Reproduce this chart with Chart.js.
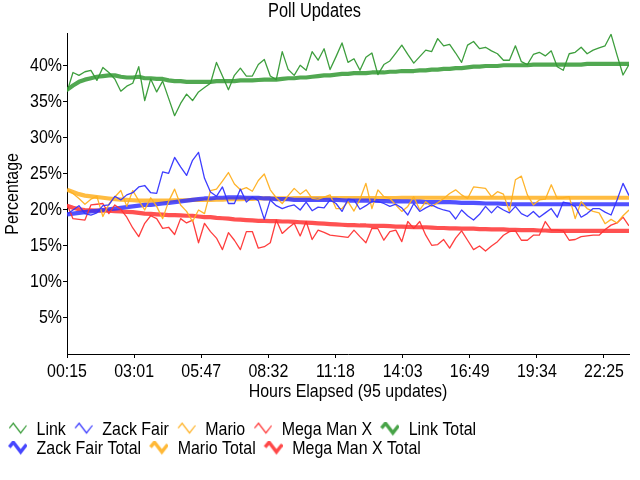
<!DOCTYPE html>
<html>
<head>
<meta charset="utf-8">
<script src="https://cdn.jsdelivr.net/npm/chart.js@4.4.1/dist/chart.umd.min.js"></script>
<style>
html,body{margin:0;padding:0;background:#fff}
#wrap{width:640px;height:480px;position:relative}
</style>
</head>
<body>
<div id="wrap"><canvas id="c" width="640" height="480"></canvas></div>
<script>
// ---------------- data ----------------
const seriesNames = ['Link', 'Zack Fair', 'Mario', 'Mega Man X', 'Link Total', 'Zack Fair Total', 'Mario Total', 'Mega Man X Total'];
const xTickLabels = ['00:15', '03:01', '05:47', '08:32', '11:18', '14:03', '16:49', '19:34', '22:25'];
const yTickValues = [5, 10, 15, 20, 25, 30, 35, 40];

const link = [36.4, 39.1, 38.7, 39.2, 39.4, 38.0, 39.8, 39.1, 38.2, 36.5,
  37.2, 37.6, 39.9, 35.2, 38.2, 36.4, 37.9, 35.5, 33.1, 34.8,
  36.1, 35.2, 36.4, 37.0, 37.6, 40.5, 38.6, 36.7, 38.7, 39.7,
  38.6, 38.6, 40.2, 40.9, 38.6, 38.1, 42.0, 39.5, 38.7, 40.1,
  39.4, 42.0, 40.8, 42.4, 39.5, 41.3, 43.2, 40.5, 41.0, 39.4,
  41.2, 41.8, 38.8, 40.2, 40.7, 41.8, 42.9, 41.6, 40.4, 41.3,
  42.2, 42.0, 43.8, 42.8, 43.0, 41.8, 40.5, 42.9, 43.4, 42.4,
  42.6, 42.1, 41.7, 40.8, 40.8, 42.8, 40.6, 40.2, 41.6, 41.9,
  41.4, 42.1, 39.9, 39.4, 41.7, 41.9, 42.6, 41.7, 42.2, 42.5,
  42.8, 44.4, 41.5, 38.75, 40.2];
const zackFair = [19.4, 20.0, 20.6, 19.5, 19.3, 19.6, 20.6, 20.7, 21.9, 21.4,
  22.1, 22.4, 23.2, 23.4, 22.4, 22.3, 25.3, 25.1, 27.3, 26.0,
  24.8, 26.9, 28.0, 24.4, 22.5, 21.9, 23.2, 20.9, 20.9, 22.9,
  21.1, 21.8, 21.3, 18.7, 21.4, 20.6, 20.2, 20.5, 20.7, 20.0,
  21.1, 19.9, 20.4, 20.3, 21.4, 20.9, 19.8, 21.5, 21.4, 20.1,
  20.6, 21.2, 21.2, 20.9, 20.5, 20.8, 20.3, 19.3, 20.9, 19.8,
  20.3, 20.7, 20.3, 20.0, 19.8, 18.75, 20.0, 19.2, 18.6, 19.4,
  20.5, 19.6, 20.5, 20.0, 19.6, 20.5, 19.5, 19.1, 19.8, 19.0,
  19.6, 20.2, 19.0, 21.1, 20.9, 20.5, 19.0, 19.5, 20.2, 20.2,
  19.7, 19.3, 21.4, 23.7, 22.0];
const mario = [22.8, 22.3, 21.6, 20.8, 21.5, 21.9, 19.1, 20.8, 21.8, 22.7,
  20.5, 22.7, 21.3, 20.0, 21.7, 20.5, 18.8, 21.2, 22.9, 20.7,
  19.8, 18.4, 20.0, 19.5, 22.7, 22.9, 24.0, 25.2, 23.6, 22.8,
  23.1, 22.6, 24.1, 25.0, 22.8, 21.7, 20.9, 22.0, 23.0, 22.2,
  22.8, 21.6, 21.5, 21.8, 22.1, 20.2, 20.2, 21.15, 19.85, 21.5,
  23.7, 20.2, 22.8, 21.85, 21.6, 20.7, 19.8, 20.5, 21.85, 20.0,
  21.15, 20.5, 21.0, 21.6, 22.3, 22.8, 22.1, 21.6, 23.2, 23.1,
  23.0, 21.85, 22.55, 22.2, 19.8, 24.2, 24.7, 22.1, 20.7, 21.4,
  21.5, 23.5, 21.6, 21.7, 21.85, 18.8, 21.15, 20.2, 19.8, 19.6,
  18.1, 18.7, 18.2, 19.2, 20.0];
const megaManX = [20.8, 18.8, 18.7, 18.6, 20.7, 20.8, 20.9, 19.5, 20.7, 20.1,
  19.0, 17.5, 16.3, 18.15, 19.2, 18.8, 17.45, 17.6, 16.6, 18.8,
  18.2, 18.6, 15.45, 18.15, 17.0, 16.1, 14.5, 16.85, 15.8, 14.5,
  17.0, 17.0, 14.7, 14.9, 15.45, 18.6, 16.75, 17.5, 18.15, 16.4,
  18.4, 15.9, 17.2, 16.9, 16.5, 16.4, 16.3, 16.2, 17.2, 16.3,
  15.45, 17.45, 17.4, 15.8, 17.0, 17.2, 15.6, 18.4, 17.45, 18.4,
  16.5, 15.1, 15.2, 15.9, 14.7, 16.1, 17.1, 15.8, 14.5, 15.0,
  14.3, 15.0, 15.6, 16.5, 17.0, 17.1, 15.8, 15.8, 16.5, 16.5,
  18.4, 17.2, 17.2, 17.1, 15.8, 15.9, 16.3, 16.4, 16.5, 16.5,
  17.3, 17.9, 18.2, 19.0, 17.8];
const linkTotal = [36.7, 37.3, 37.8, 38.1, 38.3, 38.5, 38.6, 38.7, 38.7, 38.5,
  38.4, 38.4, 38.5, 38.3, 38.3, 38.2, 38.2, 38.0, 37.9, 37.9,
  37.8, 37.8, 37.8, 37.8, 37.8, 37.9, 37.9, 37.9, 37.9, 38.0,
  38.0, 38.0, 38.05, 38.1, 38.1, 38.1, 38.2, 38.3, 38.3, 38.4,
  38.4, 38.5, 38.6, 38.7, 38.7, 38.8, 38.9, 38.9, 39.0, 39.0,
  39.0, 39.1, 39.1, 39.1, 39.2, 39.2, 39.3, 39.3, 39.3, 39.4,
  39.4, 39.5, 39.5, 39.6, 39.6, 39.7, 39.7, 39.8, 39.9, 39.9,
  40.0, 40.0, 40.0, 40.1, 40.1, 40.1, 40.1, 40.1, 40.2, 40.2,
  40.2, 40.2, 40.2, 40.2, 40.2, 40.2, 40.2, 40.3, 40.3, 40.3,
  40.3, 40.3, 40.3, 40.3, 40.3];
const zackFairTotal = [19.4, 19.5, 19.6, 19.7, 19.8, 19.9, 20.0, 20.1, 20.2, 20.3,
  20.4, 20.5, 20.6, 20.7, 20.7, 20.8, 20.9, 21.0, 21.1, 21.2,
  21.3, 21.4, 21.5, 21.6, 21.6, 21.7, 21.7, 21.75, 21.75, 21.75,
  21.7, 21.7, 21.7, 21.6, 21.6, 21.5, 21.5, 21.5, 21.4, 21.4,
  21.4, 21.4, 21.4, 21.4, 21.4, 21.4, 21.35, 21.3, 21.3, 21.3,
  21.3, 21.3, 21.25, 21.25, 21.2, 21.2, 21.2, 21.2, 21.15, 21.15,
  21.1, 21.1, 21.1, 21.1, 21.1, 21.05, 21.0, 21.0, 21.0, 20.95,
  20.9, 20.9, 20.9, 20.85, 20.8, 20.8, 20.8, 20.8, 20.8, 20.8,
  20.8, 20.8, 20.8, 20.8, 20.8, 20.8, 20.8, 20.8, 20.8, 20.8,
  20.8, 20.8, 20.8, 20.8, 20.8];
const marioTotal = [22.8, 22.5, 22.2, 22.0, 21.9, 21.8, 21.7, 21.6, 21.5, 21.45,
  21.4, 21.35, 21.3, 21.3, 21.3, 21.3, 21.3, 21.3, 21.35, 21.35,
  21.35, 21.4, 21.4, 21.4, 21.4, 21.45, 21.45, 21.5, 21.5, 21.5,
  21.55, 21.55, 21.6, 21.6, 21.6, 21.6, 21.6, 21.6, 21.65, 21.65,
  21.65, 21.65, 21.65, 21.65, 21.65, 21.65, 21.65, 21.65, 21.65, 21.65,
  21.65, 21.65, 21.65, 21.65, 21.65, 21.65, 21.7, 21.7, 21.7, 21.7,
  21.7, 21.7, 21.7, 21.7, 21.7, 21.7, 21.7, 21.7, 21.7, 21.7,
  21.7, 21.7, 21.7, 21.7, 21.7, 21.7, 21.7, 21.7, 21.7, 21.7,
  21.7, 21.7, 21.7, 21.7, 21.7, 21.7, 21.7, 21.7, 21.7, 21.7,
  21.7, 21.7, 21.7, 21.7, 21.7];
const megaManXTotal = [20.6, 20.3, 20.1, 20.0, 19.95, 19.9, 19.9, 19.9, 19.85, 19.8,
  19.75, 19.7, 19.6, 19.5, 19.45, 19.4, 19.35, 19.3, 19.3, 19.25,
  19.2, 19.2, 19.1, 19.0, 19.0, 18.9, 18.85, 18.8, 18.7, 18.65,
  18.6, 18.55, 18.5, 18.5, 18.45, 18.45, 18.4, 18.4, 18.35, 18.3,
  18.25, 18.2, 18.15, 18.1, 18.05, 18.0, 17.95, 17.9, 17.9, 17.85,
  17.85, 17.8, 17.8, 17.8, 17.75, 17.7, 17.7, 17.65, 17.6, 17.6,
  17.6, 17.55, 17.5, 17.5, 17.45, 17.45, 17.4, 17.4, 17.4, 17.35,
  17.35, 17.3, 17.3, 17.3, 17.25, 17.25, 17.2, 17.2, 17.2, 17.15,
  17.15, 17.1, 17.1, 17.1, 17.1, 17.1, 17.1, 17.1, 17.1, 17.1,
  17.1, 17.1, 17.1, 17.1, 17.1];

// update index (one per poll update)
const updates = link.map((_, i) => i);

// ---------------- styling ----------------
const FONT = "'Liberation Sans', Arial, sans-serif";
const TEXT_SQUEEZE = 0.84;   // narrow (condensed) lettering
const colors = ['51,153,51', '51,51,255', '255,176,32', '255,51,51'];
const X_TICK_STEP = 11.227;
const LEGEND_ROW_WIDTH = 560;

Chart.defaults.font.family = FONT;
Chart.defaults.color = '#000';

// condensed text: squeeze glyphs horizontally around their anchor
const canvas = document.getElementById('c');
const ctx = canvas.getContext('2d');
(function condense(c) {
  const fill = c.fillText, measure = c.measureText;
  c.fillText = function (text, x, y, maxWidth) {
    this.save();
    this.translate(x, y);
    this.scale(TEXT_SQUEEZE, 1);
    if (maxWidth === undefined || maxWidth === null) fill.call(this, text, 0, 0);
    else fill.call(this, text, 0, 0, maxWidth / TEXT_SQUEEZE);
    this.restore();
  };
  c.measureText = function (text) {
    const m = measure.call(this, text);
    return {
      width: m.width * TEXT_SQUEEZE,
      actualBoundingBoxAscent: m.actualBoundingBoxAscent,
      actualBoundingBoxDescent: m.actualBoundingBoxDescent,
      actualBoundingBoxLeft: m.actualBoundingBoxLeft * TEXT_SQUEEZE,
      actualBoundingBoxRight: m.actualBoundingBoxRight * TEXT_SQUEEZE,
      fontBoundingBoxAscent: m.fontBoundingBoxAscent,
      fontBoundingBoxDescent: m.fontBoundingBoxDescent
    };
  };
})(ctx);

function makeIcon(rgb, thick) {
  const c = document.createElement('canvas');
  c.width = 27; c.height = 16;
  const g = c.getContext('2d');
  g.strokeStyle = 'rgba(' + rgb + ',' + (thick ? 0.9 : 1) + ')';
  g.lineWidth = thick ? 3.4 : 1.2;
  g.lineJoin = 'miter';
  g.beginPath();
  g.moveTo(9.3, 6.6); g.lineTo(13.3, 1.8); g.lineTo(20.7, 11.4); g.lineTo(26.5, 4.0);
  g.stroke();
  return c;
}

const seriesValues = [link, zackFair, mario, megaManX, linkTotal, zackFairTotal, marioTotal, megaManXTotal];
const legendIcons = seriesNames.map((_, i) => makeIcon(colors[i % 4], i >= 4));

const datasets = seriesNames.map((name, i) => {
  const thick = i >= 4;
  const rgb = colors[i % 4];
  return {
    label: name,
    data: seriesValues[i],
    borderColor: 'rgba(' + rgb + ',' + (thick ? 0.85 : 0.95) + ')',
    backgroundColor: 'rgba(' + rgb + ',1)',
    borderWidth: thick ? 4.2 : 1.3,
    pointRadius: 0,
    tension: 0,
    fill: false,
    borderCapStyle: 'butt',
    borderJoinStyle: 'round'
  };
});

const legendWrap = {
  id: 'legendWrap',
  beforeLayout(chart) {
    const lg = chart.legend;
    if (!lg || lg._wrapPatched) return;
    lg._wrapPatched = true;
    const fit = lg.fit, draw = lg.draw;
    lg.fit = function () {
      const mw = this.maxWidth;
      this.maxWidth = Math.min(mw, LEGEND_ROW_WIDTH);
      fit.call(this);
      this.maxWidth = mw;
      this.width = mw;
    };
    lg.draw = function (area) {
      const r = this.right;
      this.right = Math.min(r, this.left + LEGEND_ROW_WIDTH);
      draw.call(this, area);
      this.right = r;
    };
  }
};

new Chart(canvas, {
  type: 'line',
  data: { labels: updates, datasets },
  plugins: [legendWrap],
  options: {
    responsive: false,
    devicePixelRatio: 1,
    animation: false,
    events: [],
    layout: { padding: { top: 0, right: 11, bottom: 12, left: 0 } },
    plugins: {
      title: {
        display: true, text: 'Poll Updates', color: '#000',
        font: { size: 19.5, weight: 'normal' },
        padding: { top: 0, bottom: 10.4 }
      },
      legend: {
        position: 'bottom', align: 'start',
        labels: {
          usePointStyle: true, pointStyleWidth: 27, padding: 0,
          font: { size: 19 }, color: '#000',
          generateLabels(chart) {
            const items = Chart.defaults.plugins.legend.labels.generateLabels(chart);
            items.forEach((it, i) => { it.pointStyle = legendIcons[i]; it.lineWidth = 0; });
            return items;
          }
        }
      },
      tooltip: { enabled: false }
    },
    scales: {
      x: {
        type: 'linear', min: 0, max: updates.length - 1,
        grid: { drawOnChartArea: false, drawTicks: true, tickLength: 4, color: '#000' },
        border: { display: true, color: '#000', width: 1 },
        afterBuildTicks: s => { s.ticks = xTickLabels.map((_, k) => ({ value: k * X_TICK_STEP })); },
        ticks: {
          autoSkip: false, maxRotation: 0, padding: 2, color: '#000',
          font: { size: 19 },
          callback: (v, i) => xTickLabels[i]
        },
        title: {
          display: true, text: 'Hours Elapsed (95 updates)', color: '#000',
          font: { size: 19 }, padding: { top: 2, bottom: 16.4 }
        },
        afterFit: s => { s.height = 66; }
      },
      y: {
        type: 'linear', min: 0, max: 44.47,
        grid: { drawOnChartArea: false, drawTicks: true, tickLength: 4, color: '#000' },
        border: { display: true, color: '#000', width: 1 },
        afterBuildTicks: s => { s.ticks = yTickValues.map(v => ({ value: v })); },
        ticks: {
          padding: 1, color: '#000', font: { size: 19 },
          callback: v => v + '%'
        },
        title: {
          display: true, text: 'Percentage', color: '#000',
          font: { size: 19 }, padding: { top: 1.5, bottom: 4 }
        },
        afterFit: s => { s.width = 67; }
      }
    }
  }
});
</script>
</body>
</html>
